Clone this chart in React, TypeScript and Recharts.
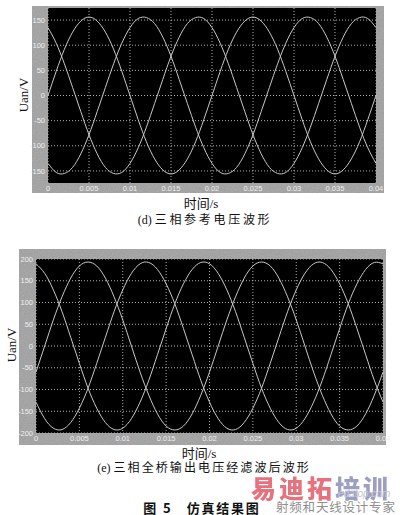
import React from 'react';
import { LineChart, Line, XAxis, YAxis, CartesianGrid } from 'recharts';

// Sample instants (s), 1 ms apart over two 50 Hz cycles
const timeS = [
  0, 0.001, 0.002, 0.003, 0.004, 0.005, 0.006, 0.007, 0.008, 0.009,
  0.01, 0.011, 0.012, 0.013, 0.014, 0.015, 0.016, 0.017, 0.018, 0.019,
  0.02, 0.021, 0.022, 0.023, 0.024, 0.025, 0.026, 0.027, 0.028, 0.029,
  0.03, 0.031, 0.032, 0.033, 0.034, 0.035, 0.036, 0.037, 0.038, 0.039,
  0.04,
];

// (d) three-phase reference voltages, V
const refPhaseA = [
  0, 48, 92, 126, 148, 156, 148, 126, 92, 48,
  0, -48, -92, -126, -148, -156, -148, -126, -92, -48,
  0, 48, 92, 126, 148, 156, 148, 126, 92, 48,
  0, -48, -92, -126, -148, -156, -148, -126, -92, -48,
  0,
];
const refPhaseB = [
  135, 104, 63, 16, -32, -78, -116, -143, -155, -153,
  -135, -104, -63, -16, 32, 78, 116, 143, 155, 153,
  135, 104, 63, 16, -32, -78, -116, -143, -155, -153,
  -135, -104, -63, -16, 32, 78, 116, 143, 155, 153,
  135,
];
const refPhaseC = [
  -135, -153, -155, -143, -116, -78, -32, 16, 63, 104,
  135, 153, 155, 143, 116, 78, 32, -16, -63, -104,
  -135, -153, -155, -143, -116, -78, -32, 16, 63, 104,
  135, 153, 155, 143, 116, 78, 32, -16, -63, -104,
  -135,
];

// (e) filtered bridge output voltages, V
const outPhaseA = [
  -60, 0, 60, 113, 156, 184, 193, 184, 156, 113,
  60, 0, -60, -113, -156, -184, -193, -184, -156, -113,
  -60, 0, 60, 113, 156, 184, 193, 184, 156, 113,
  60, 0, -60, -113, -156, -184, -193, -184, -156, -113,
  -60,
];
const outPhaseB = [
  189, 167, 129, 79, 20, -40, -97, -143, -176, -192,
  -189, -167, -129, -79, -20, 40, 97, 143, 176, 192,
  189, 167, 129, 79, 20, -40, -97, -143, -176, -192,
  -189, -167, -129, -79, -20, 40, 97, 143, 176, 192,
  189,
];
const outPhaseC = [
  -129, -167, -189, -192, -176, -143, -97, -40, 20, 79,
  129, 167, 189, 192, 176, 143, 97, 40, -20, -79,
  -129, -167, -189, -192, -176, -143, -97, -40, 20, 79,
  129, 167, 189, 192, 176, 143, 97, 40, -20, -79,
  -129,
];

const timeTicks = [0, 0.005, 0.01, 0.015, 0.02, 0.025, 0.03, 0.035, 0.04];
const refVoltTicks = [150, 100, 50, 0, -50, -100, -150];
const outVoltTicks = [200, 150, 100, 50, 0, -50, -100, -150, -200];

const refRows = timeS.map((t, i) => ({ t, a: refPhaseA[i], b: refPhaseB[i], c: refPhaseC[i] }));
const outRows = timeS.map((t, i) => ({ t, a: outPhaseA[i], b: outPhaseB[i], c: outPhaseC[i] }));

const FRAME_GRAY = '#a0a0a0';
const TRACE = '#c8c8c8';
const TICK_STYLE = { fontSize: 7.5, fill: '#eeeeee', fontFamily: '"Liberation Sans", Arial, sans-serif' };

type ScopeProps = {
  rows: { t: number; a: number; b: number; c: number }[];
  top: number;
  height: number;
  margin: { top: number; right: number; bottom: number; left: number };
  yAxisWidth: number;
  xAxisHeight: number;
  yDomain: [number, number];
  yTicks: number[];
};

function Scope({ rows, top, height, margin, yAxisWidth, xAxisHeight, yDomain, yTicks }: ScopeProps) {
  return (
    <div style={{ position: 'absolute', left: 0, top }}>
      <LineChart width={400} height={height} data={rows} margin={margin}>
        <CartesianGrid
          fill="#000000"
          stroke="#b0b0b0"
          strokeDasharray="1 2"
          strokeWidth={1}
          horizontalValues={yTicks}
          verticalValues={timeTicks}
        />
        <XAxis
          dataKey="t"
          type="number"
          domain={[0, 0.04]}
          ticks={timeTicks}
          interval={0}
          height={xAxisHeight}
          tickLine={false}
          axisLine={false}
          tickSize={0}
          tickMargin={3}
          tick={TICK_STYLE}
        />
        <YAxis
          type="number"
          domain={yDomain}
          allowDataOverflow
          ticks={yTicks}
          interval={0}
          width={yAxisWidth}
          tickLine={false}
          axisLine={false}
          tickSize={0}
          tickMargin={3}
          tick={TICK_STYLE}
        />
        <Line type="natural" dataKey="a" stroke={TRACE} strokeWidth={1} dot={false} isAnimationActive={false} />
        <Line type="natural" dataKey="b" stroke={TRACE} strokeWidth={1} dot={false} isAnimationActive={false} />
        <Line type="natural" dataKey="c" stroke={TRACE} strokeWidth={1} dot={false} isAnimationActive={false} />
      </LineChart>
    </div>
  );
}

// Gray instrument frame with a light grain
function Frame({ id, x, y, w, h }: { id: string; x: number; y: number; w: number; h: number }) {
  return (
    <svg width={w} height={h} style={{ position: 'absolute', left: x, top: y }}>
      <defs>
        <filter id={id} x="0" y="0" width="100%" height="100%">
          <feTurbulence type="fractalNoise" baseFrequency="0.9" numOctaves={2} seed={4} />
          <feColorMatrix type="saturate" values="0" />
        </filter>
      </defs>
      <rect width={w} height={h} fill={FRAME_GRAY} />
      <rect width={w} height={h} filter={`url(#${id})`} opacity={0.3} />
    </svg>
  );
}

const serif = '"Liberation Serif", "Times New Roman", serif';
const cjk = '"Liberation Serif", "Noto Sans CJK SC", serif';

function Caption({ x, y, size, children, style }: { x: number; y: number; size: number; children: React.ReactNode; style?: React.CSSProperties }) {
  return (
    <div
      style={{
        position: 'absolute',
        left: x,
        top: y,
        transform: 'translate(-50%, -50%)',
        whiteSpace: 'nowrap',
        fontSize: size,
        fontFamily: cjk,
        color: '#111',
        lineHeight: 1,
        ...style,
      }}
    >
      {children}
    </div>
  );
}

function AxisTitle({ x, y }: { x: number; y: number }) {
  return (
    <div
      style={{
        position: 'absolute',
        left: x,
        top: y,
        transform: 'translate(-50%, -50%) rotate(-90deg)',
        whiteSpace: 'nowrap',
        fontSize: 13,
        fontFamily: serif,
        color: '#111',
        lineHeight: 1,
      }}
    >
      Uan/V
    </div>
  );
}

export default function App() {
  return (
    <div style={{ position: 'absolute', left: 0, top: 0, width: 400, height: 515, background: '#ffffff', overflow: 'hidden' }}>
      <Frame id="grainTop" x={32} y={6} w={352} h={187} />
      <Frame id="grainBottom" x={19} y={249} w={367} h={196} />

      <Scope
        rows={refRows}
        top={0}
        height={200}
        margin={{ top: 8, right: 24, bottom: 0, left: 0 }}
        yAxisWidth={48}
        xAxisHeight={17}
        yDomain={[-174, 174]}
        yTicks={refVoltTicks}
      />
      <Scope
        rows={outRows}
        top={240}
        height={215}
        margin={{ top: 19, right: 17, bottom: 0, left: 0 }}
        yAxisWidth={36}
        xAxisHeight={22}
        yDomain={[-200, 200]}
        yTicks={outVoltTicks}
      />

      <AxisTitle x={23} y={95} />
      <AxisTitle x={11} y={345} />

      <Caption x={201} y={203} size={13}>时间/s</Caption>
      <Caption x={205} y={220} size={12}>
        (d) <span style={{ letterSpacing: 2.7 }}>三相参考电压波形</span>
      </Caption>

      <Caption x={199} y={453} size={13}>时间/s</Caption>
      <Caption x={204} y={468} size={12}>
        (e) <span style={{ letterSpacing: 2.1 }}>三相全桥输出电压经滤波后波形</span>
      </Caption>

      {/* site watermark */}
      <div style={{ position: 'absolute', left: 251, top: 475, fontSize: 25, fontWeight: 900, fontFamily: '"Noto Sans CJK SC", sans-serif', lineHeight: 1, whiteSpace: 'nowrap', opacity: 0.85, letterSpacing: 3 }}>
        <span style={{ color: '#e25a68' }}>易迪拓</span>
        <span style={{ color: '#8b8fb4' }}>培训</span>
      </div>
      <div style={{ position: 'absolute', left: 338, top: 489, fontSize: 10, fontStyle: 'italic', fontFamily: '"Liberation Sans", sans-serif', color: '#c4c7d2', lineHeight: 1, whiteSpace: 'nowrap' }}>
        edatop.com
      </div>

      <Caption x={202} y={507} size={13} style={{ fontWeight: 700, fontFamily: '"Noto Sans CJK SC", sans-serif', letterSpacing: 1.8 }}>
        图 5&nbsp;&nbsp;&nbsp;仿真结果图
      </Caption>
      <div style={{ position: 'absolute', left: 276, top: 501, fontSize: 12.5, fontFamily: '"Noto Sans CJK SC", sans-serif', color: '#8e8e8e', lineHeight: 1, whiteSpace: 'nowrap', letterSpacing: 0.8 }}>
        射频和天线设计专家
      </div>
    </div>
  );
}
